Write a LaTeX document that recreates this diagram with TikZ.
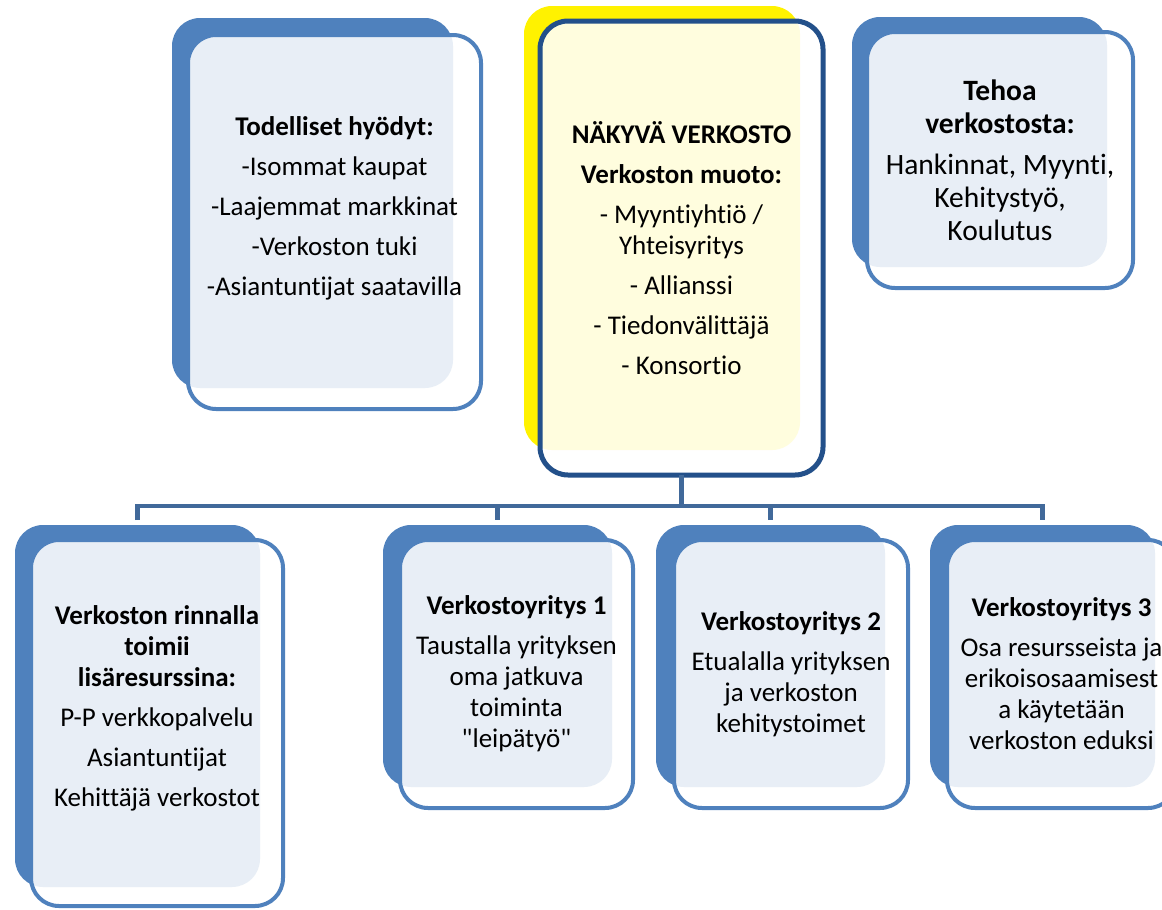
\documentclass[tikz,border=0pt]{standalone}
\usepackage{fontspec}
\setmainfont{Carlito}[Ligatures={NoCommon}]
\usetikzlibrary{positioning,calc}

\definecolor{boxblue}{HTML}{4F81BD}
\definecolor{hubblue}{HTML}{23508A}
\definecolor{linkblue}{HTML}{41699A}

\tikzset{
  backbox/.style={fill=#1, draw=none, rounded corners=28pt, inner sep=0pt, outer sep=0pt},
  frontbox/.style={fill=white, fill opacity=.87, rounded corners=28pt, inner sep=0pt, outer sep=0pt},
  txt/.style={align=center, text=black, inner sep=0pt},
  link/.style={draw=linkblue, line width=4.5pt}
}

\begin{document}
\begin{tikzpicture}[x=1pt,y=-1pt, font=\fontsize{27}{31}\selectfont]
  \useasboundingbox (0,0) rectangle (1162,910);
  \clip (0,0) rectangle (1162,910);

  % back shapes
  \foreach \n/\clr/\xa/\ya/\xb/\yb in {tod/boxblue/172/18/453/388, nv/yellow/524/6/800/450,
      teh/boxblue/852/17/1107/267, lis/boxblue/15/525/260/887, v1/boxblue/383/525/612/787,
      v2/boxblue/656/525/885/787, v3/boxblue/930/525/1155/787}
    \node[backbox=\clr, minimum width={(\xb-\xa)*1pt}, minimum height={(\yb-\ya)*1pt}]
      (\n-b) at ({(\xa+\xb)/2},{(\ya+\yb)/2}) {};

  % front frames
  \foreach \n/\clr/\lw/\xa/\ya/\xb/\yb in {tod/boxblue/4/188/35/481/409, nv/hubblue/5/540/21/823/475,
      teh/boxblue/4/867/32/1133/288, lis/boxblue/4/31/540/283/906, v1/boxblue/4/400/540/633/808,
      v2/boxblue/4/674/540/908/808, v3/boxblue/4/947/540/1176/808}
    \node[frontbox, draw=\clr, line width=\lw pt, minimum width={(\xb-\xa)*1pt}, minimum height={(\yb-\ya)*1pt}]
      (\n) at ({(\xa+\xb)/2},{(\ya+\yb)/2}) {};

  % texts
  \node[txt] (tod-t) at ([yshift=14pt]tod.center) {\textbf{Todelliset hyödyt:}\\[9pt]
    -Isommat kaupat\\[9pt] -Laajemmat markkinat\\[9pt] -Verkoston tuki\\[9pt] -Asiantuntijat saatavilla};
  \node[txt] (nv-t) at (nv.center) {\textbf{NÄKYVÄ VERKOSTO}\\[9pt] \textbf{Verkoston muoto:}\\[9pt]
    - Myyntiyhtiö /\\ Yhteisyritys\\[9pt] - Allianssi\\[9pt] - Tiedonvälittäjä\\[9pt] - Konsortio};
  \node[txt, font=\fontsize{29.5}{33}\selectfont] (teh-t) at (teh.center) {\textbf{Tehoa}\\ \textbf{verkostosta:}\\[8pt]
    Hankinnat, Myynti,\\ Kehitystyö,\\ Koulutus};
  \node[txt] (lis-t) at ([yshift=15pt]lis.center) {\textbf{Verkoston rinnalla}\\ \textbf{toimii}\\
    \textbf{lisäresurssina:}\\[9pt] P-P verkkopalvelu\\[9pt] Asiantuntijat\\[9pt] Kehittäjä verkostot};
  \node[txt] (v1-t) at (v1.center) {\textbf{Verkostoyritys 1}\\[9pt]
    Taustalla yrityksen\\ oma jatkuva\\ toiminta\\ \textquotedbl leipätyö\textquotedbl};
  \node[txt] (v2-t) at (v2.center) {\textbf{Verkostoyritys 2}\\[9pt]
    Etualalla yrityksen\\ ja verkoston\\ kehitystoimet};
  \node[txt] (v3-t) at (v3.center) {\textbf{Verkostoyritys 3}\\[9pt]
    Osa resursseista ja\\ erikoisosaamisest\\ a käytetään\\ verkoston eduksi};

  % connectors
  \coordinate (bus) at ($(nv.south)+(0,31)$);
  \draw[link] (nv.south) -- (bus);
  \draw[link] ([yshift=5pt]lis-b.north) |- (bus -| v3-b.north) -- ([yshift=5pt]v3-b.north);
  \foreach \n in {v1,v2}
    \draw[link] (bus -| \n-b.north) -- ([yshift=5pt]\n-b.north);
\end{tikzpicture}
\end{document}
